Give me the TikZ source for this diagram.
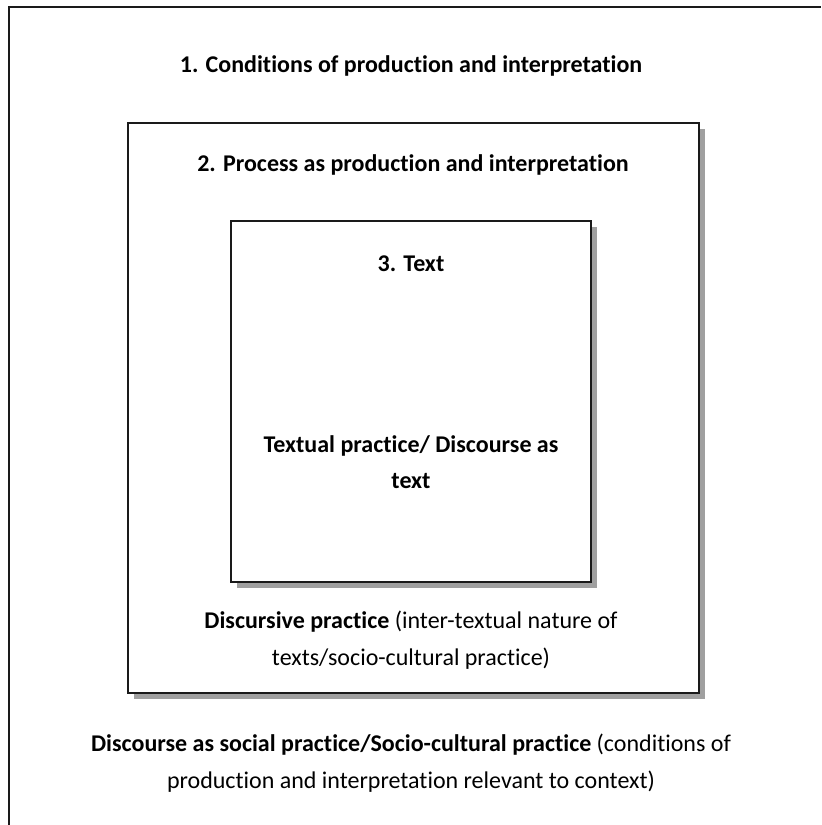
\documentclass[tikz,border=0pt]{standalone}
\usepackage{fontspec}
\setmainfont[Ligatures=NoCommon]{Carlito}
\usetikzlibrary{positioning, shadows}
\definecolor{cFrame} {HTML}{1A1A1A}
\definecolor{cShadow}{HTML}{A0A0A0}

\begin{document}
\begin{tikzpicture}[x=0.5pt, y=-0.5pt,
    layerbox/.style={draw=cFrame, line width=1pt, fill=white, inner sep=0pt,
      drop shadow={shadow xshift=3pt, shadow yshift=-3pt, fill=cShadow, opacity=1}},
    bodytext/.style={font=\fontsize{12}{18.2}\selectfont, align=center, inner sep=0pt},
    headtext/.style={bodytext, font=\fontsize{12}{18.2}\selectfont\bfseries}]
  \useasboundingbox (0,0) rectangle (821,825);
  % outer frame (only left and top edges show)
  \draw[cFrame, line width=1pt] (9,825) -- (9,7) -- (821,7);
  \node[headtext] (condTitle) at (411,66) {1. Conditions of production and interpretation};
  % process box
  \node[layerbox, minimum width=285.5pt, minimum height=285pt] (procBox) at (413.5,408) {};
  \node[headtext] (procTitle) at (413,165) {2. Process as production and interpretation};
  % text box
  \node[layerbox, minimum width=180pt, minimum height=180.5pt] (textBox) at (411,401.5) {};
  \node[headtext] (textTitle) at (411,264) {3. Text};
  \node[headtext] (textBody) at (411,462) {Textual practice/ Discourse as\\ text};
  % captions
  \node[bodytext] (procBody) at (411,640) {\textbf{Discursive practice} (inter-textual nature of\\ texts/socio-cultural practice)};
  \node[bodytext] (condBody) at (411,763) {\textbf{Discourse as social practice/Socio-cultural practice} (conditions of\\ production and interpretation relevant to context)};
\end{tikzpicture}
\end{document}
